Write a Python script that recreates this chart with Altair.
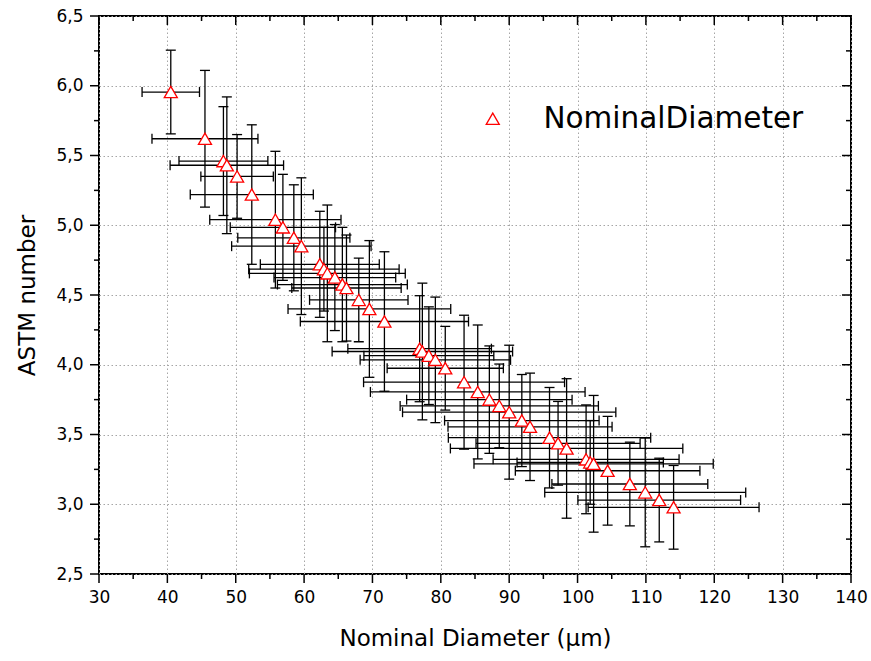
import altair as alt
import pandas as pd

# ---- data ----
diam = [40.5, 45.5, 48.2, 48.7, 50.2, 52.35, 55.8, 56.9, 58.5, 59.6,
        62.3, 62.9, 63.4, 64.5, 65.6, 66.2, 68.0, 69.55, 71.75, 76.9,
        77.3, 78.25, 79.2, 80.65, 83.4, 85.4, 87.1, 88.55, 90.0, 91.85,
        93.05, 95.9, 97.15, 98.4, 101.25, 101.85, 102.35, 104.4, 107.65, 109.9,
        111.95, 114.05]
astm = [5.955, 5.62, 5.46, 5.43, 5.35, 5.22, 5.04, 4.985, 4.91, 4.85,
        4.72, 4.685, 4.655, 4.625, 4.575, 4.55, 4.465, 4.40, 4.31, 4.115,
        4.095, 4.065, 4.035, 3.975, 3.875, 3.805, 3.75, 3.705, 3.66, 3.60,
        3.555, 3.477, 3.437, 3.40, 3.322, 3.30, 3.29, 3.24, 3.145, 3.085,
        3.03, 2.978]
diam_err = [4.2, 7.75, 6.5, 8.3, 5.3, 9.0, 9.6, 7.7, 8.2, 10.2,
            8.7, 11.0, 11.4, 8.9, 9.5, 8.0, 7.2, 11.9, 12.3, 10.5,
            13.2, 9.5, 11.0, 8.5, 14.7, 15.7, 12.1, 14.5, 15.6, 11.3,
            12.0, 14.8, 12.0, 17.0, 13.6, 10.7, 17.5, 13.5, 11.4, 14.7,
            11.9, 12.5]
astm_err = [0.30, 0.49, 0.39, 0.49, 0.30, 0.50, 0.49, 0.38, 0.38, 0.49,
            0.38, 0.30, 0.49, 0.38, 0.41, 0.38, 0.30, 0.49, 0.50, 0.38,
            0.49, 0.35, 0.45, 0.30, 0.48, 0.48, 0.385, 0.30, 0.48, 0.33,
            0.385, 0.36, 0.30, 0.50, 0.39, 0.30, 0.49, 0.39, 0.30, 0.39,
            0.30, 0.30]
series_name = "NominalDiameter"

x_major = [30, 40, 50, 60, 70, 80, 90, 100, 110, 120, 130, 140]
x_minor = [35, 45, 55, 65, 75, 85, 95, 105, 115, 125, 135]
y_major = [2.5, 3.0, 3.5, 4.0, 4.5, 5.0, 5.5, 6.0, 6.5]
y_minor = [2.75, 3.25, 3.75, 4.25, 4.75, 5.25, 5.75, 6.25]

W, H = 752, 558
FONT = "DejaVu Sans"

df = pd.DataFrame({"d": diam, "a": astm, "dx": diam_err, "ay": astm_err})
df["d_lo"] = df.d - df.dx
df["d_hi"] = df.d + df.dx
df["a_lo"] = df.a - df.ay
df["a_hi"] = df.a + df.ay
df["series"] = series_name

xs = alt.Scale(domain=[30, 140], nice=False, zero=False)
ys = alt.Scale(domain=[2.5, 6.5], nice=False, zero=False)

GRID = dict(grid=True, gridDash=[1.5, 2.5], gridColor="#a6a6a6", gridWidth=1)

x_axis = alt.Axis(values=x_major, title="Nominal Diameter (\u03bcm)", **GRID,
                  domain=False, ticks=False, tickSize=0, labelPadding=15,
                  labelFont=FONT, labelFontSize=17, labelColor="black",
                  titleFont=FONT, titleFontSize=23, titleFontWeight="normal",
                  titleColor="black", titlePadding=22, labelFlush=False,
                  labelOverlap=False)
y_axis = alt.Axis(values=y_major, title="ASTM number", **GRID,
                  domain=False, ticks=False, tickSize=0, labelPadding=16,
                  labelExpr="replace(format(datum.value, '.1f'), '.', ',')",
                  labelFont=FONT, labelFontSize=17, labelColor="black",
                  titleFont=FONT, titleFontSize=23, titleFontWeight="normal",
                  titleColor="black", titlePadding=16, labelFlush=False,
                  labelOverlap=False)


def X(field):
    return alt.X(field, type="quantitative", scale=xs, axis=x_axis)


def Y(field):
    return alt.Y(field, type="quantitative", scale=ys, axis=y_axis)


base = alt.Chart(df)
bar_style = dict(color="black", strokeWidth=1.3)
cap_style = dict(size=10, thickness=1.3, color="black", opacity=1)

hbar = base.mark_rule(**bar_style).encode(x=X("d_lo"), x2="d_hi:Q", y=Y("a"))
vbar = base.mark_rule(**bar_style).encode(x=X("d"), y=Y("a_lo"), y2="a_hi:Q")
cap_l = base.mark_tick(orient="vertical", **cap_style).encode(x=X("d_lo"), y=Y("a"))
cap_r = base.mark_tick(orient="vertical", **cap_style).encode(x=X("d_hi"), y=Y("a"))
cap_b = base.mark_tick(orient="horizontal", **cap_style).encode(x=X("d"), y=Y("a_lo"))
cap_t = base.mark_tick(orient="horizontal", **cap_style).encode(x=X("d"), y=Y("a_hi"))

legend = alt.Legend(title=None, orient="none", legendX=379, legendY=88,
                    padding=0, labelFont=FONT, labelFontSize=29.5,
                    labelColor="black", labelLimit=500, labelOffset=36,
                    symbolSize=170, symbolStrokeWidth=1.3,
                    symbolFillColor="white", symbolType="triangle-up")

points = base.mark_point(filled=False, fill="white", strokeWidth=1.3,
                         size=170, opacity=1).encode(
    x=X("d"), y=Y("a"),
    shape=alt.Shape("series:N", scale=alt.Scale(range=["triangle-up"]), legend=legend),
    stroke=alt.Stroke("series:N", scale=alt.Scale(range=["red"]), legend=legend),
)


def xticks(vals, y0, y1):
    return alt.Chart(pd.DataFrame({"v": vals})).mark_rule(color="black", strokeWidth=1.5).encode(
        x=X("v"), y=alt.value(y0), y2=alt.value(y1))


def yticks(vals, x0, x1):
    return alt.Chart(pd.DataFrame({"v": vals})).mark_rule(color="black", strokeWidth=1.5).encode(
        y=Y("v"), x=alt.value(x0), x2=alt.value(x1))


ticks = [
    xticks(x_major, H, H + 9), xticks(x_minor, H, H + 5),
    xticks(x_major, 0, 9), xticks(x_minor, 0, 5),
    yticks(y_major, 0, -9), yticks(y_minor, 0, -5),
    yticks(y_major, W, W - 9), yticks(y_minor, W, W - 5),
]

chart = alt.layer(hbar, vbar, cap_l, cap_r, cap_b, cap_t, points, *ticks).properties(
    width=W, height=H,
    autosize=alt.AutoSizeParams(type="none"),
    padding={"left": 99, "top": 16, "right": 20, "bottom": 87},
    background="white",
).configure_view(stroke="black", strokeWidth=2)

chart.save("out.html", embed_options={"renderer": "svg", "actions": False})
